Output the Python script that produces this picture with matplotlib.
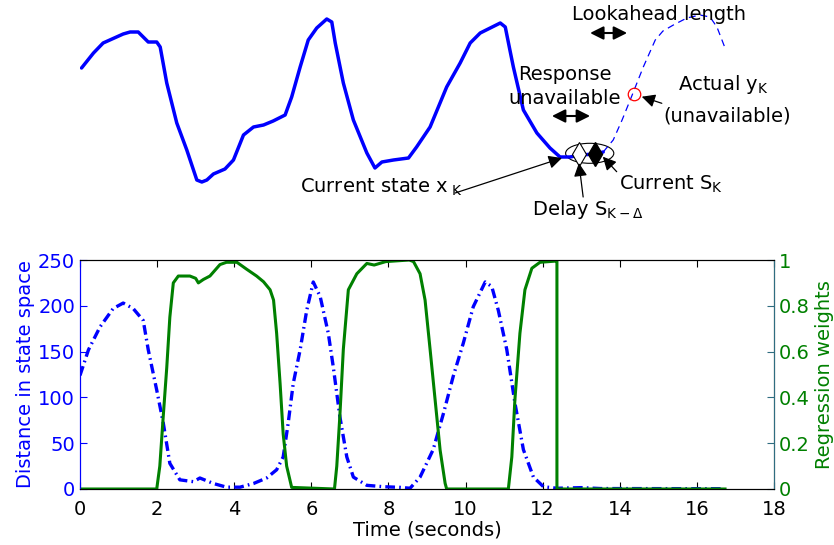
import numpy as np
import matplotlib
matplotlib.use('Agg')
import matplotlib.pyplot as plt
from matplotlib.patches import Ellipse

plt.rcParams['font.family'] = ['DejaVu Sans']
plt.rcParams['lines.scale_dashes'] = False

# top panel: state trajectory (arbitrary state units)
state_t = [0.04, 0.35, 0.60, 1.12, 1.30, 1.51, 1.77, 1.99, 2.08, 2.25, 2.51, 2.77,
           3.03, 3.16, 3.29, 3.46, 3.76, 3.98, 4.24, 4.50, 4.76, 5.01, 5.32, 5.49,
           5.71, 5.92, 6.14, 6.40, 6.53, 6.62, 6.83, 7.09, 7.44, 7.65, 7.83, 8.13,
           8.52, 8.73, 9.08, 9.51, 9.86, 10.12, 10.38, 10.90, 11.03, 11.15, 11.24,
           11.50, 11.85, 12.19, 12.45, 12.71, 12.97, 13.36, 13.57]
state_v = [172, 187, 197, 206, 208, 208, 198, 198, 193, 157, 117, 90,
           60, 58, 60, 66, 71, 80, 105, 113, 115, 119, 125, 143,
           173, 200, 212, 221, 218, 197, 157, 120, 87, 72, 78, 80,
           82, 93, 113, 153, 177, 197, 207, 217, 213, 190, 173,
           130, 107, 92, 83, 83, 85, 86, 88]

future_t = [13.57, 13.83, 14.06, 14.27, 14.61, 14.92, 15.12, 15.39, 15.74, 16.08,
            16.34, 16.52, 16.73]
future_v = [88, 100, 120, 140, 173, 200, 209, 215, 222, 225, 223, 213, 192]

# bottom panel
dist_t = [0.0, 0.22, 0.52, 0.86, 1.12, 1.38, 1.64, 1.77, 1.99, 2.16, 2.33, 2.59,
          2.94, 3.11, 3.46, 3.80, 4.15, 4.50, 4.84, 5.10, 5.27, 5.40, 5.53, 5.71,
          5.88, 6.05, 6.23, 6.44, 6.57, 6.74, 6.92, 7.09, 7.44, 7.87, 8.30, 8.56,
          8.82, 9.16, 9.43, 9.68, 9.94, 10.20, 10.51, 10.68, 10.85, 11.07, 11.28,
          11.50, 11.76, 12.02, 12.37, 13.0, 13.5, 16.7]
dist_v = [124, 152, 177, 197, 203, 197, 184, 152, 108, 72, 28, 10,
          8, 12, 6, 2, 2, 6, 12, 21, 35, 72, 115, 152,
          195, 226, 210, 170, 133, 79, 35, 13, 4, 2.5, 1.8, 0.8,
          13, 43, 83, 123, 159, 199, 226, 221, 195, 152, 94,
          43, 13, 2.5, 0.8, 1.5, 0.5, 0.3]

weight_t = [0.0, 1.99, 2.07, 2.16, 2.25, 2.33, 2.42, 2.55, 2.72, 2.85, 3.00, 3.07,
            3.20, 3.37, 3.63, 3.80, 4.07, 4.32, 4.58, 4.76, 4.93, 5.02, 5.10, 5.19,
            5.27, 5.36, 5.49, 6.60, 6.66, 6.74, 6.83, 6.96, 7.18, 7.44, 7.63, 7.93,
            8.54, 8.65, 8.82, 8.95, 9.08, 9.21, 9.34, 9.47, 9.51, 11.11, 11.20,
            11.28, 11.41, 11.54, 11.72, 11.93, 12.32, 12.37, 12.37, 16.73]
weight_v = [0, 0, 0.10, 0.32, 0.53, 0.75, 0.90, 0.93, 0.93, 0.93, 0.92, 0.90,
            0.915, 0.93, 0.98, 0.99, 0.99, 0.96, 0.93, 0.905, 0.87, 0.825, 0.68, 0.46,
            0.24, 0.10, 0.007, 0, 0.10, 0.32, 0.61, 0.87, 0.94, 0.985, 0.978, 0.993,
            1.0, 0.993, 0.94, 0.825, 0.61, 0.39, 0.17, 0.025, 0, 0, 0.14,
            0.39, 0.68, 0.87, 0.964, 0.99, 0.995, 0.995, 0, 0]

time_ticks = [0, 2, 4, 6, 8, 10, 12, 14, 16, 18]
dist_ticks = [0, 50, 100, 150, 200, 250]
weight_ticks = [0, 0.2, 0.4, 0.6, 0.8, 1]
weight_labels = ['0', '0.2', '0.4', '0.6', '0.8', '1']

blue = (0, 0, 1)
green = (0, 0.5, 0)
teal = '#2f6d80'
fs = 14

fig = plt.figure(figsize=(8.34, 5.45), dpi=100)

# ---- top schematic ----
top = fig.add_axes([80 / 834, 305 / 545, 694 / 834, 240 / 545])
top.set_xlim(0, 18)
top.set_ylim(0, 240)
top.axis('off')
top.plot(state_t, state_v, color=blue, lw=2.5, solid_capstyle='round',
         solid_joinstyle='round')
top.plot(future_t, future_v, color=blue, lw=0.9, dashes=(5, 3.5))
top.plot([14.37], [145.7], 'o', ms=9, mfc='none', mec='red', mew=0.9)
top.add_patch(Ellipse((13.22, 86.7), 1.25, 20, fill=False, lw=0.8, color='k'))
top.plot([12.93], [86], 'd', ms=12, mfc='white', mec='k', mew=0.8)
top.plot([13.36], [86], 'd', ms=12, mfc='k', mec='k')

arr = dict(arrowstyle='-|>', color='k', lw=0.9, mutation_scale=20, shrinkA=0, shrinkB=0)
dbl = dict(arrowstyle='<|-|>', color='k', lw=1.5, mutation_scale=20, shrinkA=0, shrinkB=0)

top.text(12.75, 220, 'Lookahead length', fontsize=fs, va='baseline')
top.annotate('', xy=(13.23, 207), xytext=(14.19, 207), arrowprops=dbl)
top.text(12.58, 160, 'Response', fontsize=fs, va='baseline', ha='center')
top.text(12.58, 136, 'unavailable', fontsize=fs, va='baseline', ha='center')
top.annotate('', xy=(12.24, 124), xytext=(13.23, 124), arrowprops=dbl)

top.text(15.52, 150, r'Actual y$_\mathrm{K}$', fontsize=fs, va='baseline')
top.text(15.13, 118, '(unavailable)', fontsize=fs, va='baseline')
top.annotate('', xy=(14.57, 143.3), xytext=(15.09, 136.7), arrowprops=arr)

top.text(5.71, 47, r'Current state x$_{\ \mathrm{K}}$', fontsize=fs, va='baseline')
top.annotate('', xy=(12.50, 82), xytext=(9.73, 47), arrowprops=arr)

top.text(11.72, 25, r'Delay S$_{\mathrm{K}-\Delta}$', fontsize=fs, va='baseline')
top.annotate('', xy=(12.94, 77), xytext=(13.05, 43), arrowprops=arr)

top.text(13.97, 50, r'Current S$_\mathrm{K}$', fontsize=fs, va='baseline')
top.annotate('', xy=(13.56, 83.3), xytext=(13.92, 68.3), arrowprops=arr)

# ---- bottom panel ----
ax = fig.add_axes([80 / 834, 56 / 545, 694 / 834, 229 / 545])
ax.plot(dist_t, dist_v, color=blue, lw=2.4, dashes=(7, 3, 1.2, 3))
ax.set_xlim(0, 18)
ax.set_ylim(0, 250)
ax.set_xticks(time_ticks)
ax.set_yticks(dist_ticks)
ax.tick_params(axis='x', direction='in', top=True, length=5, labelsize=fs, pad=8)
ax.tick_params(axis='y', direction='in', length=5, labelsize=fs, colors=blue)
ax.spines['left'].set_color(blue)
ax.set_xlabel('Time (seconds)', fontsize=fs, labelpad=1)
ax.set_ylabel('Distance in state space', fontsize=fs, color=blue, labelpad=2)

ax2 = ax.twinx()
ax2.plot(weight_t, weight_v, color=green, lw=2.2)
ax2.set_ylim(0, 1)
ax2.set_yticks(weight_ticks)
ax2.set_yticklabels(weight_labels)
ax2.tick_params(axis='y', direction='in', length=5, labelsize=fs, color=teal,
                labelcolor=green)
ax2.spines['right'].set_color(teal)
ax2.spines['left'].set_color(blue)
ax2.set_ylabel('Regression weights', fontsize=fs, color=green, labelpad=4)

fig.savefig('out.png', dpi=100)
